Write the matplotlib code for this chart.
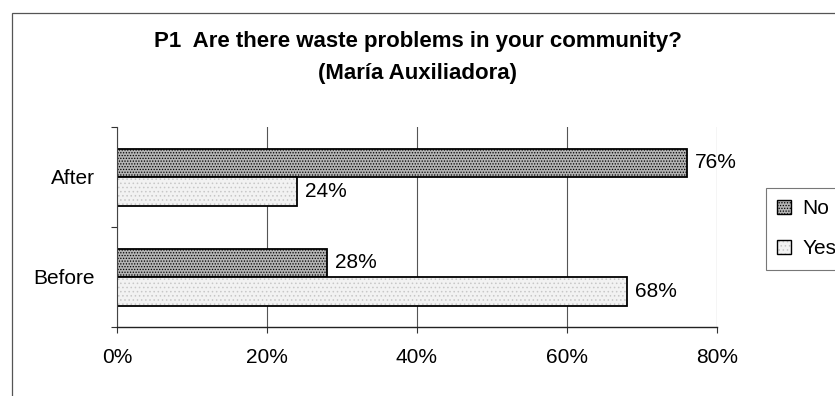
import numpy as np
import matplotlib.pyplot as plt
from matplotlib.patches import Rectangle

plt.rcParams["font.family"] = ["Liberation Sans", "DejaVu Sans"]
plt.rcParams["hatch.linewidth"] = 0.6

categories = ["Before", "After"]
no_values = [28, 76]
yes_values = [68, 24]
xticks = [0, 20, 40, 60, 80]

fig = plt.figure(figsize=(8.35, 3.96), dpi=100)
ax = fig.add_axes([117 / 835, 1 - 327 / 396, 600 / 835, 200 / 396])

y = np.arange(len(categories)) + 0.5
h = 0.285

plt.rcParams["hatch.color"] = "#777777"
bars_no = ax.barh(y + h / 2, no_values, height=h, color="#b4b4b4",
                  edgecolor="black", lw=1.3, hatch="......", label="No")
bars_yes = ax.barh(y - h / 2, yes_values, height=h, color="#f2f2f2",
                   edgecolor="black", lw=1.3, label="Yes")
for b in bars_yes:
    b.set_hatch("....")
    b._hatch_color = (0.78, 0.78, 0.78, 1.0)

for bars, vals in ((bars_no, no_values), (bars_yes, yes_values)):
    for b, v in zip(bars, vals):
        ax.text(v + 1.1, b.get_y() + b.get_height() / 2, f"{v}%",
                va="center", ha="left", fontsize=15)

ax.set_xlim(0, 80)
ax.set_ylim(0, 2)
ax.set_xticks(xticks)
ax.set_xticklabels([f"{t}%" for t in xticks], fontsize=15)
ax.tick_params(axis="x", length=4, pad=11, color="#333333")
ax.set_yticks([0, 1, 2])
ax.set_yticklabels([])
ax.set_yticks(y, minor=True)
ax.set_yticklabels(categories, minor=True, fontsize=15)
ax.tick_params(axis="y", which="major", length=4, color="#333333")
ax.tick_params(axis="y", which="minor", length=0, pad=16)

ax.grid(axis="x", color="#555555", lw=0.8)
ax.set_axisbelow(True)
for s in ("top", "right"):
    ax.spines[s].set_visible(False)
ax.spines["left"].set_color("#444444")
ax.spines["bottom"].set_color("#222222")
ax.spines["left"].set_linewidth(0.8)
ax.spines["bottom"].set_linewidth(1.0)

fig.text(0.5, 1 - 42 / 396, "P1  Are there waste problems in your community?",
         ha="center", va="center", fontsize=16, fontweight="bold")
fig.text(0.5, 1 - 73 / 396, "(María Auxiliadora)",
         ha="center", va="center", fontsize=16, fontweight="bold")

# outer chart frame, running off the right edge
fig.patches.append(Rectangle((12 / 835, -0.1), 1.2, 1.1 - 13 / 396,
                             transform=fig.transFigure, fill=False,
                             edgecolor="#555555", lw=0.9))

leg = fig.legend(handles=[bars_no, bars_yes], labels=["No", "Yes"],
                 loc="upper left", bbox_to_anchor=(766 / 835, 1 - 188 / 396),
                 fontsize=15, frameon=True, fancybox=False,
                 handlelength=0.65, handleheight=0.65, handletextpad=0.55,
                 labelspacing=1.0, borderpad=0.55, borderaxespad=0)
leg.get_frame().set_edgecolor("#555555")
leg.get_frame().set_linewidth(0.8)
for p in leg.get_patches():
    p.set_linewidth(1.0)

fig.savefig("out.png", dpi=100)
